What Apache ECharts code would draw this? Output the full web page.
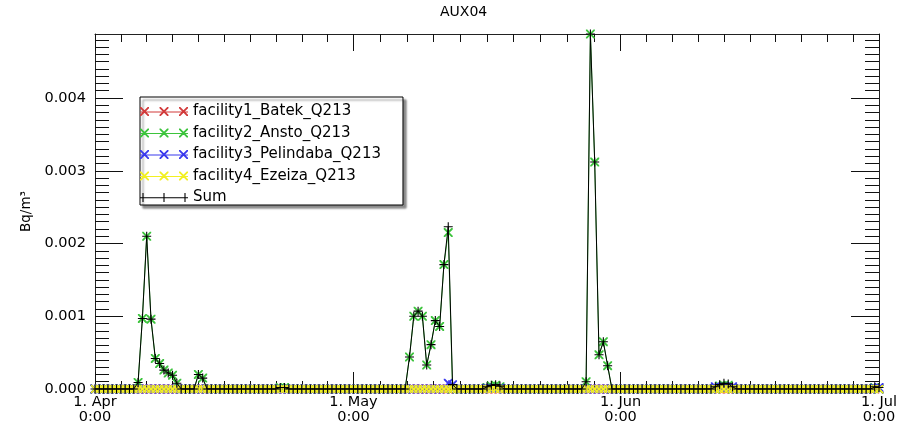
<!DOCTYPE html>
<html>
<head>
<meta charset="utf-8">
<script src="https://cdn.jsdelivr.net/npm/echarts@6/dist/echarts.min.js"></script>
<style>html,body{margin:0;padding:0;background:#fff}#c{width:900px;height:425px}</style>
</head>
<body>
<div id="c"></div>
<script>
// ---------------- data ----------------
const chartTitle = 'AUX04';
const yAxisName = 'Bq/m\u00B3';
const seriesNames = ['facility1_Batek_Q213', 'facility2_Ansto_Q213', 'facility3_Pelindaba_Q213', 'facility4_Ezeiza_Q213', 'Sum'];
const monthNames = ['Jan','Feb','Mar','Apr','May','Jun','Jul','Aug','Sep','Oct','Nov','Dec'];
// month boundaries (year, monthIndex, day) used as major x ticks
const monthTicks = [[2013, 3, 1], [2013, 4, 1], [2013, 5, 1], [2013, 6, 1]];
// samples every 12 hours starting 1 Apr 2013 0:00
const sampleStart = [2013, 3, 1];
const sampleStepHours = 12;
const yMajorTicks = [0, 0.001, 0.002, 0.003, 0.004];
const yMax = 0.00488;

const facility1 = [
 0,0,0,0,0,0,0,0,0,0, 0,0,0,0,0,0,0,0,0,0, 0,0,0,0,0,0,0,0,0,0,
 0,0,0,0,0,0,0,0,0,0, 0,0,0,0,0,0,0,0,0,0, 0,0,0,0,0,0,0,0,0,0,
 0,0,0,0,0,0,0,0,0,0, 0,0,0,0,0,0,0,0,0,0, 0,0,0,0,0,0,0,0,0,0,
 0,0,0,0,0,0,0,0,0,0, 0,0,0,0,0,0,0,0,0,0, 0,0,0,0,0,0,0,0,0,0,
 0,0,0,0,0,0,0,0,0,0, 0,0,0,0,0,0,0,0,0,0, 0,0,0,0,0,0,0,0,0,0,
 0,0,0,0,0,0,0,0,0,0, 0,0,0,0,0,0,0,0,0,0, 0,0,0,0,0,0,0,0,0,0,
 0,0,0
];
const facility2 = [
 0,0,0,0,0,0,0,0,0,0,
 0.00009,0.00097,0.0021,0.00096,0.00042,0.00035,0.00026,0.00022,0.00019,0.00008,
 0,0,0,0,0.0002,0.00015,0,0,0,0,
 0,0,0,0,0,0,0,0,0,0,
 0,0,0,0.00002,0.00002,0,0,0,0,0,
 0,0,0,0,0,0,0,0,0,0,
 0,0,0,0,0,0,0,0,0,0,
 0,0,0,0.00044,0.001,0.00107,0.001,0.00033,0.00061,0.00094,
 0.00086,0.00171,0.00215,0,0,0,0,0,0,0,
 0,0.00002,0.00004,0.00005,0.00003,0,0,0,0,0,
 0,0,0,0,0,0,0,0,0,0,
 0,0,0,0,0.0001,0.00488,0.00312,0.00047,0.00065,0.00032,
 0,0,0,0,0,0,0,0,0,0,
 0,0,0,0,0,0,0,0,0,0,
 0,0,0,0,0,0.00004,0.00005,0.00005,0,0,
 0,0,0,0,0,0,0,0,0,0,
 0,0,0,0,0,0,0,0,0,0,
 0,0,0,0,0,0,0,0,0,0,
 0,0.00002,0
];
const facility3 = [
 0,0,0,0,0,0,0,0,0,0, 0,0,0,0,0,0,0,0,0,0, 0,0,0,0,0,0,0,0,0,0,
 0,0,0,0,0,0,0,0,0,0, 0,0,0,0,0,0,0,0,0,0, 0,0,0,0,0,0,0,0,0,0,
 0,0,0,0,0,0,0,0,0,0, 0,0,0,0,0,0,0,0,0,0,
 0,0,0.00008,0.00006,0,0,0,0,0,0,
 0,0.00001,0.00001,0.00001,0.00001,0,0,0,0,0,
 0,0,0,0,0,0,0,0,0,0, 0,0,0,0,0,0,0,0,0,0,
 0,0,0,0,0,0,0,0,0,0, 0,0,0,0,0,0,0,0,0,0,
 0,0,0,0,0.00003,0.00002,0.00003,0.00002,0.00003,0,
 0,0,0,0,0,0,0,0,0,0, 0,0,0,0,0,0,0,0,0,0, 0,0,0,0,0,0,0,0,0,0,
 0,0.00001,0.00002
];
const facility4 = [
 0,0,0,0,0,0,0,0,0,0, 0,0,0,0,0,0,0,0,0,0, 0,0,0,0,0,0,0,0,0,0,
 0,0,0,0,0,0,0,0,0,0, 0,0,0,0,0,0,0,0,0,0, 0,0,0,0,0,0,0,0,0,0,
 0,0,0,0,0,0,0,0,0,0, 0,0,0,0,0,0,0,0,0,0, 0,0,0,0,0,0,0,0,0,0,
 0,0,0,0,0,0,0,0,0,0, 0,0,0,0,0,0,0,0,0,0, 0,0,0,0,0,0,0,0,0,0,
 0,0,0,0,0,0,0,0,0,0, 0,0,0,0,0,0,0,0,0,0, 0,0,0,0,0,0,0,0,0,0,
 0,0,0,0,0,0,0,0,0,0, 0,0,0,0,0,0,0,0,0,0, 0,0,0,0,0,0,0,0,0,0,
 0,0,0
];
const sumValues = [
 0,0,0,0,0,0,0,0,0,0,
 0.00009,0.00097,0.0021,0.00096,0.00042,0.00035,0.00026,0.00022,0.00019,0.00008,
 0,0,0,0,0.0002,0.00015,0,0,0,0,
 0,0,0,0,0,0,0,0,0,0,
 0,0,0,0.00002,0.00002,0,0,0,0,0,
 0,0,0,0,0,0,0,0,0,0,
 0,0,0,0,0,0,0,0,0,0,
 0,0,0,0.00044,0.001,0.00107,0.001,0.00033,0.00061,0.00094,
 0.00086,0.00171,0.00223,0.00006,0,0,0,0,0,0,
 0,0.00003,0.00005,0.00006,0.00004,0,0,0,0,0,
 0,0,0,0,0,0,0,0,0,0,
 0,0,0,0,0.0001,0.00488,0.00312,0.00047,0.00065,0.00032,
 0,0,0,0,0,0,0,0,0,0,
 0,0,0,0,0,0,0,0,0,0,
 0,0,0,0,0.00003,0.00006,0.00008,0.00007,0.00003,0,
 0,0,0,0,0,0,0,0,0,0,
 0,0,0,0,0,0,0,0,0,0,
 0,0,0,0,0,0,0,0,0,0,
 0,0.00003,0.00002
];
const seriesValues = [facility1, facility2, facility3, facility4, sumValues];
const seriesColors = ['#d23a3a', '#3cc43c', '#3a3aee', '#f2f022', '#000000'];

// ---------------- build ----------------
const FONT = 'DejaVu Sans';
const times = sumValues.map((_, i) => new Date(sampleStart[0], sampleStart[1], sampleStart[2] + Math.floor(i * sampleStepHours / 24), (i * sampleStepHours) % 24).getTime());
const majorX = monthTicks.map(m => new Date(m[0], m[1], m[2]).getTime());
const minorX = [];
for (let j = 0; j < majorX.length - 1; j++) {
  for (let k = 1; k < 10; k++) minorX.push(majorX[j] + (majorX[j + 1] - majorX[j]) * k / 10);
}
const minorY = [];
for (let k = 1; k * 0.0001 < yMax; k++) if (k % 10) minorY.push(+(k * 0.0001).toFixed(5));
const xMin = majorX[0], xMax = majorX[majorX.length - 1];

// symbols (filled thin polygons)
function xShape(cx, cy, h, t) {
  return `M${cx-h} ${cy-h}L${cx-h+t} ${cy-h}L${cx+h} ${cy+h-t}L${cx+h} ${cy+h}L${cx+h-t} ${cy+h}L${cx-h} ${cy-h+t}Z` +
         `M${cx+h} ${cy-h}L${cx+h} ${cy-h+t}L${cx-h+t} ${cy+h}L${cx-h} ${cy+h}L${cx-h} ${cy+h-t}L${cx+h-t} ${cy-h}Z`;
}
function plusShape(cx, cy, h, t) {
  return `M${cx-t/2} ${cy-h}L${cx+t/2} ${cy-h}L${cx+t/2} ${cy+h}L${cx-t/2} ${cy+h}Z` +
         `M${cx-h} ${cy-t/2}L${cx+h} ${cy-t/2}L${cx+h} ${cy+t/2}L${cx-h} ${cy+t/2}Z`;
}
const X_SYMBOL = 'path://' + xShape(5, 5, 5, 1.5);
const PLUS_SYMBOL = 'path://' + plusShape(5, 5, 5, 1.2);
function legendXIcon() {
  return 'path://M0 4.4L48 4.4L48 5.4L0 5.4Z' + [4.5, 24, 43.5].map(cx => xShape(cx, 4.5, 4.5, 1.3)).join('');
}
function legendPlusIcon() {
  let p = 'M0 4.2L48 4.2L48 5.2L0 5.2Z';
  [3, 24, 45].forEach(cx => { p += `M${cx-0.55} 0L${cx+0.55} 0L${cx+0.55} 9L${cx-0.55} 9Z`; });
  return 'path://' + p;
}

const axisLineStyle = { color: '#222', width: 1 };
const tickStyle = { color: '#111', width: 1 };

function xAx(pos, major, withLine, withLabel) {
  return {
    type: 'value', position: pos, min: xMin, max: xMax, scale: true,
    axisLine: { show: withLine, onZero: false, lineStyle: axisLineStyle },
    axisTick: { show: true, inside: true, length: major ? 17 : 8, customValues: major ? majorX : minorX, lineStyle: tickStyle },
    axisLabel: withLabel ? {
      show: true, customValues: majorX, margin: 6, color: '#000', fontFamily: FONT, fontSize: 14.5, lineHeight: 15,
      showMinLabel: true, showMaxLabel: true, hideOverlap: false,
      formatter: v => { const d = new Date(v); return d.getDate() + '. ' + monthNames[d.getMonth()] + '\n' + d.getHours() + ':' + String(d.getMinutes()).padStart(2, '0'); }
    } : { show: false },
    splitLine: { show: false }, minorTick: { show: false }
  };
}
function yAx(pos, major, withLine, withLabel) {
  const o = {
    type: 'value', position: pos, min: 0, max: yMax,
    axisLine: { show: withLine, onZero: false, lineStyle: axisLineStyle },
    axisTick: { show: true, inside: true, length: major ? 28 : 14, customValues: major ? yMajorTicks : minorY, lineStyle: tickStyle },
    axisLabel: withLabel ? {
      show: true, customValues: yMajorTicks, margin: 9, color: '#000', fontFamily: FONT, fontSize: 14.5,
      formatter: v => v.toFixed(3)
    } : { show: false },
    splitLine: { show: false }
  };
  if (withLabel) {
    o.name = yAxisName; o.nameLocation = 'middle'; o.nameRotate = 90; o.nameGap = 46;
    o.nameTextStyle = { color: '#000', fontFamily: FONT, fontSize: 13.5 };
  }
  return o;
}

const series = seriesNames.map((name, s) => ({
  name, type: 'line',
  data: times.map((t, i) => [t, seriesValues[s][i]]),
  xAxisIndex: 0, yAxisIndex: 0,
  symbol: s === 4 ? PLUS_SYMBOL : X_SYMBOL,
  symbolSize: s === 3 ? 8 : 9,
  showAllSymbol: true,
  lineStyle: { color: seriesColors[s], width: 1 },
  itemStyle: { color: seriesColors[s], borderWidth: 0 },
  emphasis: { disabled: true },
  z: 2 + s,
  animation: false
}));

const chart = echarts.init(document.getElementById('c'), null, { renderer: 'canvas' });
chart.setOption({
  animation: false,
  backgroundColor: '#fff',
  title: { text: chartTitle, left: 440, top: 5, padding: 0, textStyle: { fontFamily: FONT, fontSize: 14, fontWeight: 'normal', color: '#000' } },
  grid: { left: 95, right: 14, top: 34, bottom: 36, containLabel: false },
  legend: {
    left: 140, top: 97, orient: 'vertical', align: 'left',
    itemWidth: 48, itemHeight: 9, itemGap: 6.5, padding: [7, 22, 0, 0],
    borderColor: '#000', borderWidth: 1, backgroundColor: '#fff',
    shadowColor: 'rgba(0,0,0,0.45)', shadowBlur: 2, shadowOffsetX: 3, shadowOffsetY: 3,
    selectedMode: false,
    itemStyle: { borderWidth: 0 },
    textStyle: { fontFamily: FONT, fontSize: 15, color: '#000' },
    data: seriesNames.map((n, s) => ({ name: n, icon: s === 4 ? legendPlusIcon() : legendXIcon() }))
  },
  xAxis: [xAx('bottom', true, true, true), xAx('bottom', false, false, false), xAx('top', true, true, false), xAx('top', false, false, false)],
  yAxis: [yAx('left', true, true, true), yAx('left', false, false, false), yAx('right', true, true, false), yAx('right', false, false, false)],
  series
});
</script>
</body>
</html>
